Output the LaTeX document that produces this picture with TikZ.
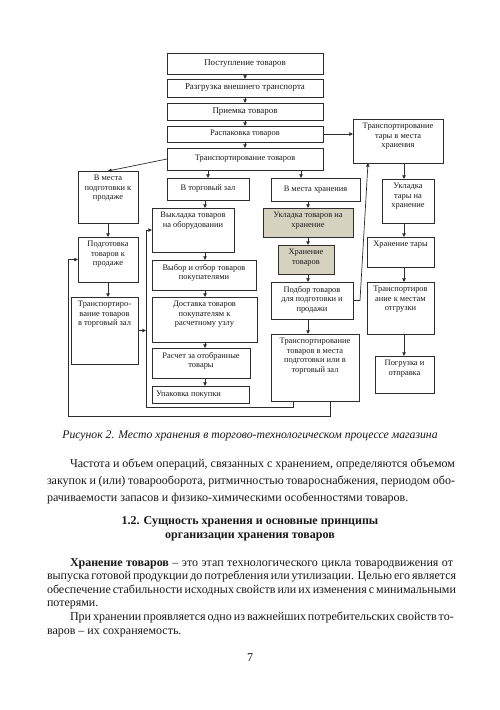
\documentclass[tikz,border=0pt]{standalone}
\usepackage{fontspec}
\setmainfont{Liberation Serif}
\usetikzlibrary{arrows.meta,calc}
\definecolor{linec}{RGB}{45,45,45}
\definecolor{txtc}{RGB}{25,25,25}
\definecolor{shadec}{RGB}{214,210,192}
\tikzset{
 box/.style={draw=linec, line width=0.7pt, inner xsep=1pt, inner ysep=0pt, outer sep=0pt,
   font=\fontsize{8.4}{9.6}\selectfont, text=txtc},
 big/.style={font=\fontsize{8.9}{9.6}\selectfont},
 shaded/.style={fill=shadec},
 arr/.style={-{Triangle[length=3.6pt,width=3.4pt]}, draw=linec, line width=0.7pt},
 txt/.style={anchor=base west, inner sep=0pt, outer sep=0pt, font=\fontsize{12}{14}\selectfont, text=txtc},
 ctxt/.style={txt, anchor=base},
}
\def\bxpad{4pt}
\newcommand\bx[7][]{%
  \pgfmathsetmacro\bxw{#5-#3-2}%
  \pgfmathsetmacro\bxh{#6-#4}%
  \pgfmathsetmacro\bxcx{(#3+#5)/2}%
  \pgfmathsetmacro\bxcy{(#4+#6)/2}%
  \ifdim\bxh pt<24pt
    \node[box,#1] (#2) at (\bxcx,\bxcy) {\parbox[c][\bxh pt][c]{\bxw pt}{\centering #7\par}};%
  \else
    \node[box,#1] (#2) at (\bxcx,\bxcy) {\parbox[c][\bxh pt][t]{\bxw pt}{\centering\vspace*{\bxpad}#7\par}};%
  \fi
}
\begin{document}
\begin{tikzpicture}[x=1pt,y=-1pt]
\useasboundingbox (0,0) rectangle (500,710);
\fill[white] (0,0) rectangle (500,710);
% main column
\bx[big]{p1}{167}{53}{323}{74}{Поступление товаров}
\bx[big]{p2}{167}{79}{323}{97}{Разгрузка внешнего транспорта}
\bx[big]{p3}{167}{103}{323}{120}{Приемка товаров}
\bx{p4}{167}{126}{323}{142}{Распаковка товаров}
\bx{p5}{167}{148}{323}{170}{Транспортирование товаров}
% left column
\bx{vmp}{78}{171}{138}{223}{В места\\ подготовки к\\ продаже}
\bx{podg}{78}{237}{138}{282}{Подготовка\\ товаров к\\ продаже}
\bx{trtz}{71}{297}{138}{364}{Транспортиро-\\ вание товаров\\ в торговый зал}
% center column
\bx{vtz}{167}{178}{249}{200}{В торговый зал}
\bx{vyk}{152}{208}{234}{252}{Выкладка товаров\\ на оборудовании}
\bx{vyb}{152}{260}{256}{290}{Выбор и отбор товаров\\ покупателями}
\bx{dost}{152}{297}{257}{342}{Доставка товаров\\ покупателям к\\ расчетному узлу}
\bx{rasch}{152}{348}{250}{378}{Расчет за отобранные\\ товары}
\bx{upak}{152}{386}{249}{403}{\raggedright\hspace*{3pt}Упаковка покупки}
% storage column
\bx{vmh}{271}{178}{360}{201}{В места хранения}
\bx[shaded]{ukl}{263}{208}{353}{237}{Укладка товаров на\\ хранение}
\bx[shaded]{hran}{278}{245}{334}{274}{Хранение\\ товаров}
\bx{podb}{271}{282}{353}{319}{Подбор товаров\\ для подготовки и\\ продажи}
\bx{trvm}{271}{334}{359}{401}{Транспортирование\\ товаров в места\\ подготовки или в\\ торговый зал}
% tare column
\bx{tara}{353}{119}{443}{163}{Транспортирование\\ тары в места\\ хранения}
\bx{uklt}{382}{179}{434}{223}{Укладка\\ тары на\\ хранение}
\bx{hrt}{367}{237}{434}{267}{Хранение тары}
\bx{trot}{367}{282}{434}{334}{Транспортиров\\ ание к местам\\ отгрузки}
\bx{pogr}{375}{356}{434}{393}{Погрузка и\\ отправка}
% x positions of connectors
\coordinate (xl) at (108,0);
\coordinate (xc) at (205,0);
\coordinate (xh) at (301,0);
\coordinate (xr) at (308,0);
\coordinate (xt) at (404,0);
\coordinate (xu) at (368,0);
\coordinate (xi) at (146,0);
\coordinate (xo) at (68,0);
\coordinate (xa) at (293,0);
\coordinate (xb) at (330,0);
% connectors
\draw[arr] (p1.south) -- (p2.north);
\draw[arr] (p2.south) -- (p3.north);
\draw[arr] (p3.south) -- (p4.north);
\draw[arr] (p4.south) -- (p5.north);
\draw[arr] (p4.east) -- (p4.east -| tara.west);
\draw[arr] (p5.west) -- (vmp.north);
\draw[arr] (p5.south -| vtz.north) -- (vtz.north);
\draw[arr] (p5.south -| xh) -- (vmh.north -| xh);
\draw[arr] (vmp.south -| xl) -- (podg.north -| xl);
\draw[arr] (podg.south -| xl) -- (trtz.north -| xl);
\draw[arr] (vtz.south -| xc) -- (vyk.north -| xc);
\draw[arr] (vyk.south -| xc) -- (vyb.north -| xc);
\draw[arr] (vyb.south -| xc) -- (dost.north -| xc);
\draw[arr] (dost.south -| xc) -- (rasch.north -| xc);
\draw[arr] (rasch.south -| xc) -- (upak.north -| xc);
\draw[arr] (vmh.south -| xr) -- (ukl.north -| xr);
\draw[arr] (ukl.south -| xr) -- (hran.north -| xr);
\draw[arr] (hran.south -| xr) -- (podb.north -| xr);
\draw[arr] (podb.south -| xr) -- (trvm.north -| xr);
\draw[arr] (tara.south -| xt) -- (uklt.north -| xt);
\draw[arr] (uklt.south -| xt) -- (hrt.north -| xt);
\draw[arr] (hrt.south -| xt) -- (trot.north -| xt);
\draw[arr] (trot.south -| xt) -- (pogr.north -| xt);
\draw[arr] (podb.east) -- ++(7,0) -- (tara.south -| xu);
\draw[arr] (trvm.south -| xa) -- ++(0,6) -| (xi |- vyk.west) -- (vyk.west);
\draw[arr] (trvm.south -| xb) -- ++(0,15) -| (xo |- podg.west) -- (podg.west);
\draw[arr] (trtz.east) -- (trtz.east -| xi);
% caption and text
\node[ctxt, font=\fontsize{11.7}{14}\selectfont\itshape] (cap) at (250,438)
  {Рисунок 2. Место хранения в торгово-технологическом процессе магазина};
\node[txt] (a1) at (70,467) {\makebox[385pt][s]{Частота и объем операций, связанных с хранением, определяются объемом}};
\node[txt] (a2) at (47,484) {\makebox[408pt][s]{закупок и (или) товарооборота, ритмичностью товароснабжения, периодом обо-}};
\node[txt] (a3) at (47,501) {рачиваемости запасов и физико-химическими особенностями товаров.};
\node[ctxt, font=\fontsize{12}{14}\selectfont\bfseries] (h1) at (250,524) {1.2. Сущность хранения и основные принципы};
\node[ctxt, font=\fontsize{12}{14}\selectfont\bfseries] (h2) at (250,538) {организации хранения товаров};
\node[txt] (b1) at (70,566) {\makebox[383pt][s]{\textbf{Хранение товаров} – это этап технологического цикла товародвижения от}};
\node[txt] (b2) at (47,579.6) {\makebox[406pt][s]{выпуска готовой продукции до потребления или утилизации. Целью его является}};
\node[txt] (b3) at (47,593.2) {\makebox[406pt][s]{обеспечение стабильности исходных свойств или их изменения с минимальными}};
\node[txt] (b4) at (47,606.8) {потерями.};
\node[txt] (b5) at (70,620.4) {\makebox[383pt][s]{При хранении проявляется одно из важнейших потребительских свойств то-}};
\node[txt] (b6) at (47,634) {варов – их сохраняемость.};
\node[ctxt] (pg) at (250,661) {7};
\end{tikzpicture}
\end{document}
